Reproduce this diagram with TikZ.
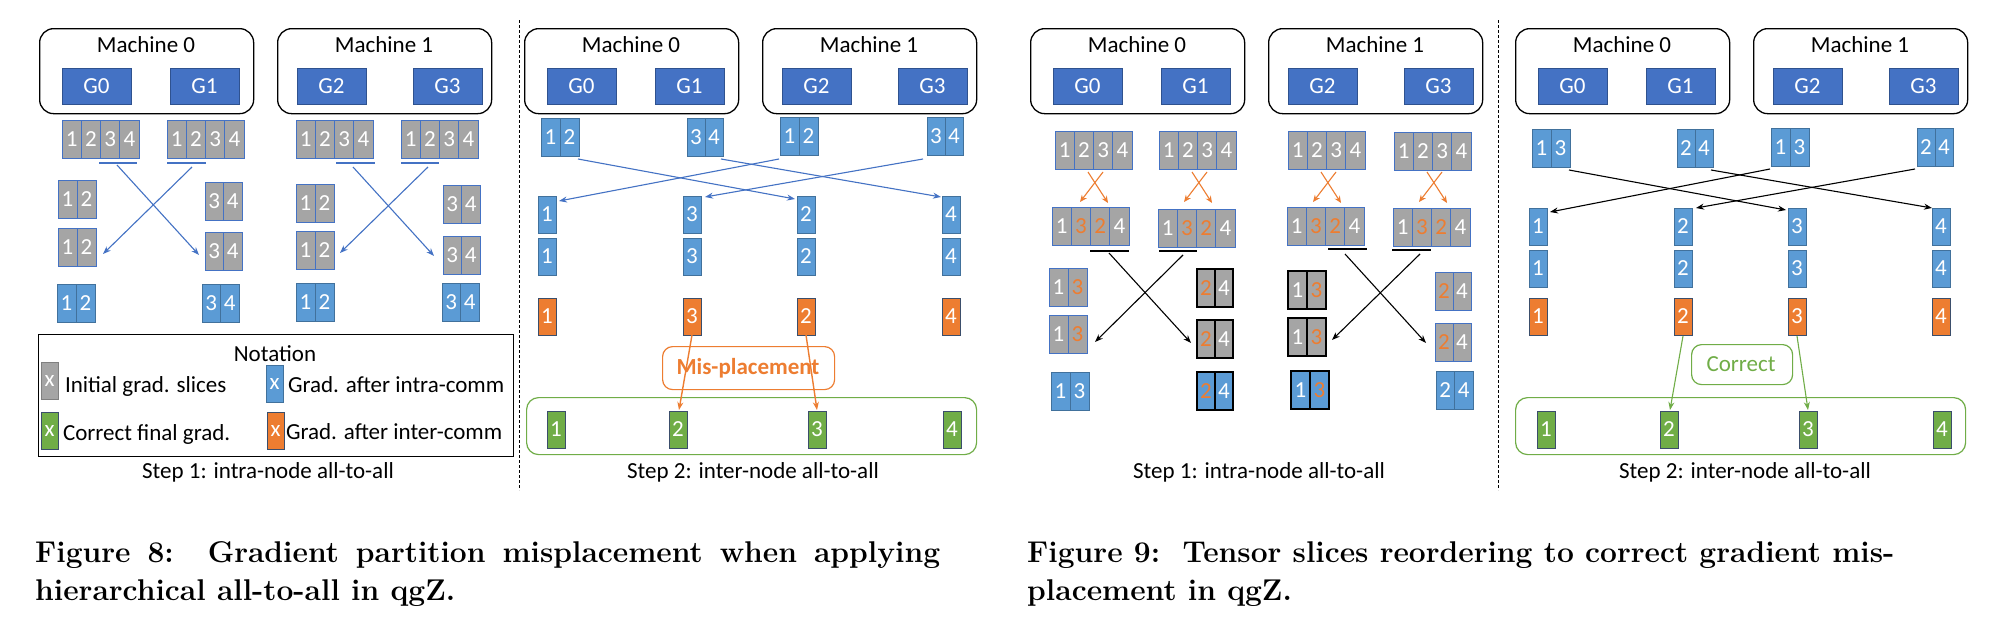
\documentclass[tikz,border=0pt]{standalone}
\usepackage{fontspec}
\newfontfamily\diafont{Carlito}
\usetikzlibrary{arrows.meta}
\definecolor{gblue}{HTML}{4472C4}
\definecolor{gbdr}{HTML}{2F528F}
\definecolor{cblue}{HTML}{5B9BD5}
\definecolor{cbdr}{HTML}{41719C}
\definecolor{cgray}{HTML}{A5A5A5}
\definecolor{corange}{HTML}{ED7D31}
\definecolor{cgreen}{HTML}{70AD47}
\definecolor{cdark}{HTML}{3B4E6B}
\newcommand\og[1]{\textcolor{corange}{#1}}
% name, x, y, style, cell width, labels
\newcommand\cellgrp[6]{%
  \foreach \lab [count=\i] in {#6}{%
    \node[#4, minimum width=#5pt, anchor=north west] (#1-\i) at ({#2+(\i-1)*#5},#3) {\lab};}}
% machines: prefix, left x
\newcommand\machines[2]{%
  \node[mach, anchor=north west] (#1m0) at (#2,28) {};
  \node[mach, anchor=north west] (#1m1) at (#2+238,28) {};
  \node[txt, anchor=base] (#1m0t) at (#2+107,52) {Machine 0};
  \node[txt, anchor=base] (#1m1t) at (#2+345,52) {Machine 1};
  \node[gpu] (#1g0) at (#2+23,68) {G0};
  \node[gpu] (#1g1) at (#2+131,68) {G1};
  \node[gpu] (#1g2) at (#2+258,68) {G2};
  \node[gpu] (#1g3) at (#2+374,68) {G3};}
\begin{document}
\begin{tikzpicture}[x=1pt, y=-1pt,
  txt/.style={font=\diafont\fontsize{23}{26}\selectfont, inner sep=0pt, outer sep=0pt},
  mach/.style={draw=black, line width=1.3pt, rounded corners=14pt, minimum width=214pt, minimum height=85pt, inner sep=0pt},
  gpu/.style={txt, anchor=north west, fill=gblue, draw=gbdr, line width=0.9pt, text=white, minimum width=69pt, minimum height=36pt},
  cellbase/.style={txt, text=white, minimum height=38pt, line width=0.9pt},
  gcell/.style={cellbase, fill=cgray, draw=gblue},
  gcellk/.style={cellbase, fill=cgray, draw=black, line width=1.3pt},
  bcell/.style={cellbase, fill=cblue, draw=cbdr},
  bcellk/.style={cellbase, fill=cblue, draw=black, line width=1.3pt},
  onecell/.style={txt, text=white, anchor=north west, minimum width=18pt, minimum height=37pt, line width=0.9pt},
  bone/.style={onecell, fill=cblue, draw=cbdr},
  oone/.style={onecell, fill=corange, draw=cdark},
  gone/.style={onecell, fill=cgreen, draw=cdark},
  legcell/.style={onecell, minimum width=17pt},
  uline/.style={line width=1.6pt},
  barr/.style={draw=gblue, line width=1.1pt, -{Stealth[length=8pt,width=6pt]}},
  karr/.style={draw=black, line width=1.1pt, -{Stealth[length=8pt,width=6pt]}},
  oarr/.style={draw=corange, line width=1.4pt, -{Stealth[length=8pt,width=6pt]}},
  garr/.style={draw=cgreen, line width=1.1pt, -{Stealth[length=8pt,width=6pt]}},
  gframe/.style={draw=cgreen, line width=1.2pt, rounded corners=12pt, anchor=north west, inner sep=0pt},
  captxt/.style={font=\fontsize{30}{36}\selectfont\bfseries, inner sep=0pt, anchor=base west},
  sepline/.style={densely dashed, line width=0.9pt}
]
\useasboundingbox (0,0) rectangle (1992,625);
\fill[white] (0,0) rectangle (1992,625);

% separators
\coordinate (d1a) at (519,20); \coordinate (d1b) at (519,490);
\coordinate (d2a) at (1498,20); \coordinate (d2b) at (1498,490);
\draw[sepline] (d1a) -- (d1b);
\draw[sepline] (d2a) -- (d2b);

%================ Panel 1 ================
\machines{p1}{39}
\cellgrp{p1a}{62}{120}{gcell}{19.25}{1,2,3,4}
\cellgrp{p1b}{167}{120}{gcell}{19.25}{1,2,3,4}
\cellgrp{p1c}{296}{120}{gcell}{19.25}{1,2,3,4}
\cellgrp{p1d}{401}{120}{gcell}{19.25}{1,2,3,4}
\coordinate (p1u1a) at (99,163); \coordinate (p1u1b) at (137,163);
\coordinate (p1u2a) at (167,163); \coordinate (p1u2b) at (206,163);
\coordinate (p1u3a) at (336,163); \coordinate (p1u3b) at (375,163);
\coordinate (p1u4a) at (401,163); \coordinate (p1u4b) at (439,163);
\draw[uline, gblue] (p1u1a) -- (p1u1b);
\draw[uline, gblue] (p1u2a) -- (p1u2b);
\draw[uline, gblue] (p1u3a) -- (p1u3b);
\draw[uline, gblue] (p1u4a) -- (p1u4b);
\cellgrp{p1e}{58}{180}{gcell}{19}{1,2}
\cellgrp{p1f}{58}{228}{gcell}{19}{1,2}
\cellgrp{p1g}{57}{284}{bcell}{19}{1,2}
\cellgrp{p1h}{205}{182}{gcell}{18.5}{3,4}
\cellgrp{p1i}{205}{232}{gcell}{18.5}{3,4}
\cellgrp{p1j}{202}{284}{bcell}{18.5}{3,4}
\cellgrp{p1k}{296}{184}{gcell}{19}{1,2}
\cellgrp{p1l}{296}{231}{gcell}{19}{1,2}
\cellgrp{p1m}{296}{283}{bcell}{19}{1,2}
\cellgrp{p1n}{443}{185}{gcell}{18.5}{3,4}
\cellgrp{p1o}{443}{236}{gcell}{18.5}{3,4}
\cellgrp{p1p}{442}{283}{bcell}{18.5}{3,4}
\coordinate (p1s1) at (117,165); \coordinate (p1e1) at (199,255);
\coordinate (p1s2) at (192,167); \coordinate (p1e2) at (103,254);
\coordinate (p1s3) at (353,167); \coordinate (p1e3) at (434,256);
\coordinate (p1s4) at (428,167); \coordinate (p1e4) at (340,253);
\draw[barr] (p1s1) -- (p1e1);
\draw[barr] (p1s2) -- (p1e2);
\draw[barr] (p1s3) -- (p1e3);
\draw[barr] (p1s4) -- (p1e4);
% notation
\node[draw=black, line width=1.2pt, minimum width=475pt, minimum height=122pt, anchor=north west, inner sep=0pt] (nota) at (38,334) {};
\node[txt, anchor=base] (notat) at (275,361) {Notation};
\node[legcell, fill=cgray, draw=gray] (l1) at (41,362) {x};
\node[legcell, fill=cgreen, draw=cdark] (l2) at (41,412) {x};
\node[legcell, fill=cblue, draw=cbdr] (l3) at (266,365) {x};
\node[legcell, fill=corange, draw=cdark] (l4) at (267,412) {x};
\node[txt, anchor=base west] (l1t) at (65,392) {Initial grad. slices};
\node[txt, anchor=base west] (l2t) at (63,440) {Correct final grad.};
\node[txt, anchor=base west] (l3t) at (288,392) {Grad. after intra-comm};
\node[txt, anchor=base west] (l4t) at (286,439) {Grad. after inter-comm};
\node[txt, anchor=base] (s1) at (268,478) {Step 1: intra-node all-to-all};

%================ Panel 2 ================
\machines{p2}{524}
\cellgrp{p2a}{541}{118}{bcell}{19}{1,2}
\cellgrp{p2b}{687}{118}{bcell}{18}{3,4}
\cellgrp{p2c}{780}{117}{bcell}{19}{1,2}
\cellgrp{p2d}{927}{117}{bcell}{18}{3,4}
\foreach \cx/\lab [count=\k] in {538/1,683/3,797/2,942/4}{
  \node[bone] (p2A-\k) at (\cx,196) {\lab};
  \node[bone] (p2B-\k) at (\cx,238) {\lab};
  \node[oone] (p2C-\k) at (\cx,298) {\lab};}
\coordinate (p2s1) at (578,159); \coordinate (p2e1) at (795,199);
\coordinate (p2s2) at (721,159); \coordinate (p2e2) at (941,197);
\coordinate (p2s3) at (779,159); \coordinate (p2e3) at (559,201);
\coordinate (p2s4) at (923,159); \coordinate (p2e4) at (705,197);
\draw[barr] (p2s1) -- (p2e1);
\draw[barr] (p2s2) -- (p2e2);
\draw[barr] (p2s3) -- (p2e3);
\draw[barr] (p2s4) -- (p2e4);
\node[gframe, minimum width=450pt, minimum height=57pt] (p2gf) at (526,397) {};
\foreach \cx/\lab [count=\k] in {547/1,669/2,808/3,943/4}{
  \node[gone] (p2G-\k) at (\cx,411) {\lab};}
\node[draw=corange, line width=1.2pt, rounded corners=10pt, minimum width=172pt, minimum height=43pt, anchor=north west, inner sep=0pt] (p2mis) at (662,346) {};
\node[txt, font=\diafont\fontsize{23}{26}\selectfont\bfseries, text=corange] (p2mist) at (748,368) {Mis-placement};
\coordinate (p2o1a) at (692,335); \coordinate (p2o1b) at (679,410);
\coordinate (p2o2a) at (806,335); \coordinate (p2o2b) at (817,410);
\draw[oarr] (p2o1a) -- (p2o1b);
\draw[oarr] (p2o2a) -- (p2o2b);
\node[txt, anchor=base] (s2) at (753,478) {Step 2: inter-node all-to-all};

%================ Panel 3 ================
\machines{p3}{1030}
\cellgrp{p3a}{1055}{131}{gcell}{19.25}{1,2,3,4}
\cellgrp{p3b}{1159}{131}{gcell}{19.25}{1,2,3,4}
\cellgrp{p3c}{1288}{131}{gcell}{19.25}{1,2,3,4}
\cellgrp{p3d}{1394}{132}{gcell}{19.25}{1,2,3,4}
\foreach \L [count=\k] in {1055,1159,1288,1394}{
  \coordinate (p3x\k a) at (\L+33,172); \coordinate (p3x\k b) at (\L+53,203);
  \coordinate (p3x\k c) at (\L+48,172); \coordinate (p3x\k d) at (\L+25,202);
  \draw[draw=corange, line width=1.1pt, -{Stealth[length=7pt,width=6pt]}] (p3x\k a) -- (p3x\k b);
  \draw[draw=corange, line width=1.1pt, -{Stealth[length=7pt,width=6pt]}] (p3x\k c) -- (p3x\k d);}
\cellgrp{p3e}{1052}{207}{gcell}{19.25}{1,\og{3},\og{2},4}
\cellgrp{p3f}{1158}{209}{gcell}{19.25}{1,\og{3},\og{2},4}
\cellgrp{p3g}{1287}{207}{gcell}{19.25}{1,\og{3},\og{2},4}
\cellgrp{p3h}{1393}{208}{gcell}{19.25}{1,\og{3},\og{2},4}
\coordinate (p3u1a) at (1090,251); \coordinate (p3u1b) at (1129,251);
\coordinate (p3u2a) at (1159,251); \coordinate (p3u2b) at (1197,251);
\coordinate (p3u3a) at (1328,249); \coordinate (p3u3b) at (1367,249);
\coordinate (p3u4a) at (1392,250); \coordinate (p3u4b) at (1431,250);
\draw[uline] (p3u1a) -- (p3u1b);
\draw[uline] (p3u2a) -- (p3u2b);
\draw[uline] (p3u3a) -- (p3u3b);
\draw[uline] (p3u4a) -- (p3u4b);
\cellgrp{p3i}{1049}{268}{gcell}{19}{1,\og{3}}
\cellgrp{p3j}{1049}{315}{gcell}{19}{1,\og{3}}
\cellgrp{p3k}{1051}{372}{bcell}{19}{1,3}
\cellgrp{p3l}{1197}{269}{gcellk}{18}{\og{2},4}
\cellgrp{p3m}{1197}{320}{gcellk}{18}{\og{2},4}
\cellgrp{p3n}{1197}{372}{bcellk}{18}{\og{2},4}
\cellgrp{p3o}{1288}{271}{gcellk}{19}{1,\og{3}}
\cellgrp{p3p}{1288}{318}{gcellk}{19}{1,\og{3}}
\cellgrp{p3q}{1291}{371}{bcellk}{19}{1,\og{3}}
\cellgrp{p3r}{1435}{272}{gcell}{18}{\og{2},4}
\cellgrp{p3s}{1435}{323}{gcell}{18}{\og{2},4}
\cellgrp{p3t}{1436}{371}{bcell}{18.5}{2,4}
\coordinate (p3s1) at (1109,253); \coordinate (p3e1) at (1191,343);
\coordinate (p3s2) at (1183,255); \coordinate (p3e2) at (1095,342);
\coordinate (p3s3) at (1345,254); \coordinate (p3e3) at (1426,343);
\coordinate (p3s4) at (1420,254); \coordinate (p3e4) at (1332,340);
\draw[karr] (p3s1) -- (p3e1);
\draw[karr] (p3s2) -- (p3e2);
\draw[karr] (p3s3) -- (p3e3);
\draw[karr] (p3s4) -- (p3e4);
\node[txt, anchor=base] (s3) at (1259,478) {Step 1: intra-node all-to-all};

%================ Panel 4 ================
\machines{p4}{1515}
\cellgrp{p4a}{1532}{129}{bcell}{19}{1,3}
\cellgrp{p4b}{1677}{129}{bcell}{18}{2,4}
\cellgrp{p4c}{1771}{128}{bcell}{19}{1,3}
\cellgrp{p4d}{1917}{128}{bcell}{18}{2,4}
\foreach \cx/\lab [count=\k] in {1529/1,1674/2,1788/3,1932/4}{
  \node[bone] (p4A-\k) at (\cx,208) {\lab};
  \node[bone] (p4B-\k) at (\cx,250) {\lab};
  \node[oone] (p4C-\k) at (\cx,298) {\lab};}
\coordinate (p4s1) at (1569,170); \coordinate (p4e1) at (1786,210);
\coordinate (p4s2) at (1711,170); \coordinate (p4e2) at (1932,208);
\coordinate (p4s3) at (1770,169); \coordinate (p4e3) at (1550,212);
\coordinate (p4s4) at (1915,169); \coordinate (p4e4) at (1696,208);
\draw[karr] (p4s1) -- (p4e1);
\draw[karr] (p4s2) -- (p4e2);
\draw[karr] (p4s3) -- (p4e3);
\draw[karr] (p4s4) -- (p4e4);
\node[gframe, minimum width=450pt, minimum height=57pt] (p4gf) at (1515,397) {};
\foreach \cx/\lab [count=\k] in {1537/1,1660/2,1799/3,1933/4}{
  \node[gone] (p4G-\k) at (\cx,411) {\lab};}
\node[draw=cgreen, line width=1.2pt, rounded corners=10pt, minimum width=101pt, minimum height=40pt, anchor=north west, inner sep=0pt] (p4cor) at (1691,344) {};
\node[txt, text=cgreen] (p4cort) at (1741,364) {Correct};
\coordinate (p4g1a) at (1683,336); \coordinate (p4g1b) at (1670,410);
\coordinate (p4g2a) at (1797,336); \coordinate (p4g2b) at (1808,410);
\draw[garr] (p4g1a) -- (p4g1b);
\draw[garr] (p4g2a) -- (p4g2b);
\node[txt, anchor=base] (s4) at (1745,478) {Step 2: inter-node all-to-all};

%================ Captions ================
\node[captxt] (c1a) at (35,562) {\makebox[905pt][s]{Figure 8:\ \ Gradient partition misplacement when applying}};
\node[captxt] (c1b) at (35,600) {hierarchical all-to-all in qgZ.};
\node[captxt] (c2a) at (1027,562) {Figure 9:\ \ Tensor slices reordering to correct gradient mis-};
\node[captxt] (c2b) at (1027,600) {placement in qgZ.};
\end{tikzpicture}
\end{document}
